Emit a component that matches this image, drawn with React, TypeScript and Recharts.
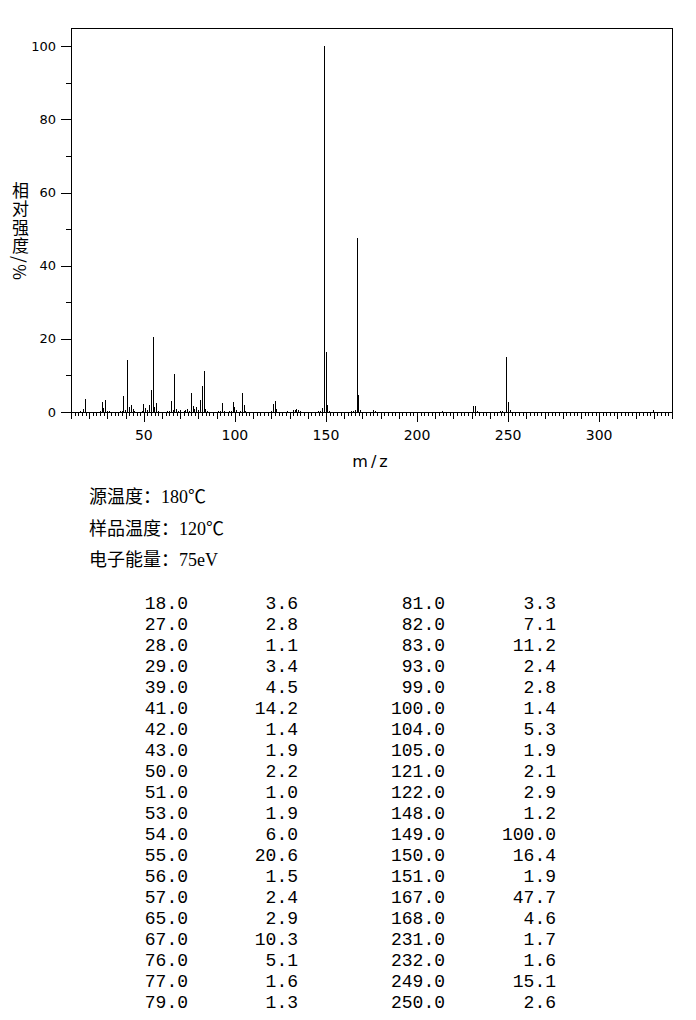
import React from "react";
import { ComposedChart, Bar, XAxis, YAxis, ReferenceLine, Label } from "recharts";

// Listed peaks (m/z, relative intensity %)
const tableMz = [18, 27, 28, 29, 39, 41, 42, 43, 50, 51, 53, 54, 55, 56, 57, 65, 67, 76, 77, 79,
  81, 82, 83, 93, 99, 100, 104, 105, 121, 122, 148, 149, 150, 151, 167, 168, 231, 232, 249, 250];
const tableInt = [3.6, 2.8, 1.1, 3.4, 4.5, 14.2, 1.4, 1.9, 2.2, 1.0, 1.9, 6.0, 20.6, 1.5, 2.4, 2.9, 10.3, 5.1, 1.6, 1.3,
  3.3, 7.1, 11.2, 2.4, 2.8, 1.4, 5.3, 1.9, 2.1, 2.9, 1.2, 100.0, 16.4, 1.9, 47.7, 4.6, 1.7, 1.6, 15.1, 2.6];

// Small unlisted peaks
const minorMz = [15, 17, 26, 30, 31, 37, 38, 40, 44, 45, 49, 52, 58, 63, 64, 66, 68, 69, 70, 72, 73, 74, 75, 78, 80,
  84, 85, 91, 92, 94, 97, 98, 101, 103, 106, 120, 123, 129, 132, 133, 134, 135, 136, 146, 147, 152, 164, 165, 166,
  169, 176, 177, 214, 233, 246, 247, 251, 330];
const minorInt = [0.3, 0.7, 0.3, 0.3, 0.3, 0.4, 0.4, 0.6, 0.8, 0.3, 0.3, 0.6, 0.3, 0.3, 0.3, 0.6, 0.8, 0.3, 0.5, 0.3, 0.5, 0.8, 0.3, 0.8, 0.5,
  0.8, 0.3, 0.3, 0.3, 0.3, 0.3, 0.3, 0.6, 0.3, 0.3, 0.4, 0.8, 0.3, 0.5, 0.5, 0.7, 0.6, 0.3, 0.3, 0.3, 0.3, 0.3, 0.3, 0.5,
  0.6, 0.6, 0.3, 0.3, 0.4, 0.3, 0.4, 0.5, 0.5];

const xTicks: number[] = [];
for (let v = 10; v <= 340; v += 2) xTicks.push(v);
const yTicks = [0, 10, 20, 30, 40, 50, 60, 70, 80, 90, 100];

const infoLines = ["源温度：180℃", "样品温度：120℃", "电子能量：75eV"];
const yLabel = "相对强度/%";
const xLabel = "m/z";

const data = [
  ...tableMz.map((m, i) => ({ mz: m, i: tableInt[i] })),
  ...minorMz.map((m, i) => ({ mz: m, i: minorInt[i] })),
].sort((a, b) => a.mz - b.mz);

const tickFont = "'DejaVu Sans', sans-serif";

const PeakShape = (props: any) => {
  const { x, y, width, height } = props;
  if (height == null || isNaN(height)) return null;
  const cx = Math.round(x + width / 2) + 0.5;
  return (
    <line x1={cx} x2={cx} y1={y} y2={y + height} stroke="#000" strokeWidth={1} shapeRendering="crispEdges" />
  );
};

const XTick = (props: any) => {
  const { x, y, payload } = props;
  const v = payload.value;
  const len = v % 50 === 0 ? 10 : v % 10 === 0 ? 7 : 4;
  const px = Math.round(x) + 0.5;
  return (
    <g>
      <line x1={px} x2={px} y1={y} y2={y + len} stroke="#000" shapeRendering="crispEdges" />
      {v % 50 === 0 && (
        <text x={x} y={y + 23} textAnchor="middle" dominantBaseline="central" fontFamily={tickFont} fontSize={14} fill="#000">
          {v}
        </text>
      )}
    </g>
  );
};

const YTick = (props: any) => {
  const { x, y, payload } = props;
  const v = payload.value;
  const major = v % 20 === 0;
  const py = Math.round(y) + 0.5;
  return (
    <g>
      <line x1={x - (major ? 10 : 5)} x2={x} y1={py} y2={py} stroke="#000" shapeRendering="crispEdges" />
      {major && (
        <text x={x - 15} y={y} textAnchor="end" dominantBaseline="central" fontFamily={tickFont} fontSize={13} fill="#000">
          {v}
        </text>
      )}
    </g>
  );
};

const rowTop = 594;
const rowH = 21;
const colRights = [188, 298, 445, 556];
const half = Math.ceil(tableMz.length / 2);

export default function App() {
  return (
    <div style={{ position: "absolute", left: 0, top: 0, width: 696, height: 1020, background: "#fff" }}>
      <div style={{ position: "absolute", left: 0, top: 0 }}>
        <ComposedChart width={696} height={470} data={data} margin={{ top: 28, right: 24, left: 11, bottom: 0 }}>
          <XAxis
            dataKey="mz"
            type="number"
            domain={[10, 340]}
            allowDataOverflow
            ticks={xTicks}
            interval={0}
            tickSize={0}
            tickMargin={0}
            tick={<XTick />}
            tickLine={false}
            axisLine={{ stroke: "#000", shapeRendering: "crispEdges" }}
            height={58}
          >
            <Label
              content={(p: any) => {
                const vb = p.viewBox;
                return (
                  <text x={vb.x + vb.width / 2} y={461} textAnchor="middle" dominantBaseline="central" fontFamily={tickFont} fontSize={16} letterSpacing={3} fill="#000">
                    {xLabel}
                  </text>
                );
              }}
            />
          </XAxis>
          <YAxis
            type="number"
            domain={[0, 105]}
            allowDataOverflow
            ticks={yTicks}
            interval={0}
            tickSize={0}
            tickMargin={0}
            tick={<YTick />}
            tickLine={false}
            axisLine={{ stroke: "#000", shapeRendering: "crispEdges" }}
            width={60}
          />
          <ReferenceLine y={105} stroke="#000" shapeRendering="crispEdges" />
          <ReferenceLine x={340} stroke="#000" shapeRendering="crispEdges" />
          <Bar dataKey="i" barSize={1} isAnimationActive={false} shape={<PeakShape />} />
        </ComposedChart>
      </div>
      <div
        style={{
          position: "absolute",
          left: 11,
          top: 182,
          writingMode: "vertical-rl",
          fontFamily: "'Noto Sans CJK SC', sans-serif",
          fontSize: 17,
          letterSpacing: 1.5,
          lineHeight: "18px",
          color: "#000",
        }}
      >
        {yLabel}
      </div>
      {infoLines.map((t, k) => (
        <div
          key={k}
          style={{
            position: "absolute",
            left: 89,
            top: 485 + k * 31.5,
            lineHeight: "24px",
            fontSize: 18,
            fontFamily: "'Liberation Serif', 'Noto Sans CJK SC', serif",
            color: "#000",
            whiteSpace: "nowrap",
          }}
        >
          {t}
        </div>
      ))}
      {tableMz.map((m, i) => {
        const c = i < half ? 0 : 2;
        const r = i < half ? i : i - half;
        const cellStyle: React.CSSProperties = {
          position: "absolute",
          top: rowTop + r * rowH,
          lineHeight: rowH + "px",
          fontSize: 18,
          fontFamily: "'Liberation Mono', monospace",
          color: "#000",
          textAlign: "right",
          width: 100,
          whiteSpace: "pre",
        };
        return (
          <React.Fragment key={i}>
            <div style={{ ...cellStyle, left: colRights[c] - 100 }}>{m.toFixed(1)}</div>
            <div style={{ ...cellStyle, left: colRights[c + 1] - 100 }}>{tableInt[i].toFixed(1)}</div>
          </React.Fragment>
        );
      })}
    </div>
  );
}
